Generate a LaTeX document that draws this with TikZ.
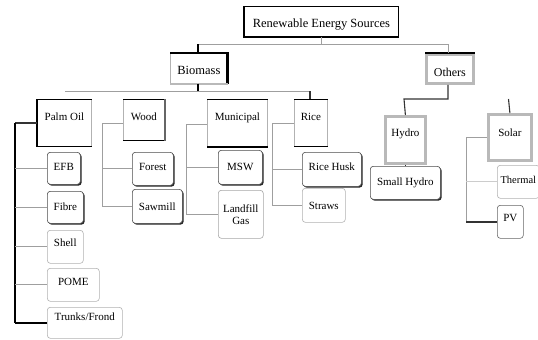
\documentclass[tikz,border=0pt]{standalone}
\usepackage{fontspec}
\setmainfont{Liberation Serif}
\usetikzlibrary{shadows}
\begin{document}
\begin{tikzpicture}[x=1bp,y=-1bp,
  font=\fontsize{11bp}{12bp}\selectfont,
  base/.style={anchor=north west, inner xsep=0pt, inner ysep=0pt, minimum height=0pt, fill=white},
  leaf/.style={base, rounded corners=3bp, draw=gray!60, line width=.6bp},
  leafsh/.style={leaf, draw=black!70, drop shadow={shadow xshift=1.3bp, shadow yshift=-1.3bp, fill=black!85, opacity=1}},
  cat/.style={base, draw=gray!60, line width=.8bp},
  frame/.style={base, draw=gray!55, line width=2.8bp},
  conn/.style={draw=gray!75, line width=.9bp},
  darkconn/.style={draw=black!80, line width=1.1bp},
  thickconn/.style={draw=black, line width=1.9bp},
  edge/.style={line width=#1, draw=black}]
\useasboundingbox (0,0) rectangle (538,339);
\clip (0,0) rectangle (538,339);
\fill[white] (0,0) rectangle (538,339);

% ---- top levels
\node[base, draw=black, line width=.8bp, minimum width=154bp, text height=21bp, text depth=9bp,
      font=\fontsize{12.5bp}{13bp}\selectfont] (root) at (244,6) {Renewable Energy Sources};
\node[base, draw=gray!60, line width=.7bp, minimum width=57bp, text height=21bp, text depth=9bp,
      font=\fontsize{12.5bp}{13bp}\selectfont] (biomass) at (170,53) {Biomass};
\node[frame, minimum width=47bp, text height=22bp, text depth=7bp,
      font=\fontsize{12bp}{13bp}\selectfont] (others) at (425,53) {Others};

% ---- biomass categories
\node[cat, minimum width=54bp, text height=21.5bp, text depth=25.5bp] (palm) at (37,99) {Palm Oil};
\node[cat, minimum width=41bp, text height=21.5bp, text depth=19.5bp] (wood) at (123,99) {Wood};
\node[cat, minimum width=60bp, text height=21.5bp, text depth=25.5bp] (municipal) at (207,99) {Municipal};
\node[cat, minimum width=33bp, text height=21.5bp, text depth=25.5bp] (rice) at (294,99) {Rice};

% ---- palm oil leaves
\node[leafsh, minimum width=33bp, text height=18.5bp, text depth=13.5bp] (efb) at (47,152) {EFB};
\node[leafsh, minimum width=36bp, text height=19.5bp, text depth=12.5bp] (fibre) at (47,191) {Fibre};
\node[leaf, minimum width=36bp, text height=16.5bp, text depth=16.5bp] (shell) at (47,230) {Shell};
\node[leaf, minimum width=52bp, text height=17.5bp, text depth=15.5bp] (pome) at (47,268) {POME};
\node[leaf, minimum width=75bp, text height=13.5bp, text depth=17.5bp] (trunks) at (47,307) {Trunks/Frond};

% ---- wood leaves
\node[leafsh, minimum width=41bp, text height=18.5bp, text depth=14.5bp] (forest) at (132,152) {Forest};
\node[leafsh, minimum width=50bp, text height=21.5bp, text depth=12.5bp] (sawmill) at (132,189) {Sawmill};

% ---- municipal leaves
\node[leafsh, minimum width=44bp, text height=20.5bp, text depth=13.5bp] (msw) at (218,150) {MSW};
\node[leaf, draw=gray!70, minimum width=45bp, minimum height=48bp, align=center] (landfill) at (218,190) {Landfill\\Gas};

% ---- rice leaves
\node[leafsh, minimum width=59bp, text height=18.5bp, text depth=15.5bp] (ricehusk) at (302,152) {Rice Husk};
\node[leaf, minimum width=43bp, text height=21bp, text depth=13bp] (straws) at (302,188) {Straws};

% ---- others
\node[frame, minimum width=40bp, text height=20.5bp, text depth=26.5bp] (hydro) at (384,115) {Hydro};
\node[leafsh, minimum width=70bp, text height=19.5bp, text depth=13.5bp] (smallhydro) at (370,166) {Small Hydro};
\node[frame, minimum width=43bp, text height=22.5bp, text depth=23.5bp] (solar) at (487,113) {Solar};
\node[leaf, minimum width=42bp, text height=18.5bp, text depth=14.5bp,
      font=\fontsize{10.5bp}{12bp}\selectfont] (thermal) at (497,165) {Thermal};
\node[leaf, draw=black!60, minimum width=26bp, text height=16.5bp, text depth=16.5bp] (pv) at (497,205) {PV};

% ---- box accents
\draw[edge=2.4bp] (root.north west) -- (root.south west) -- (root.south east);
\draw[edge=2.6bp] (biomass.north west) -- (biomass.north east) -- (biomass.south east);
\draw[edge=2.4bp, draw=gray!55] (biomass.south west) -- (biomass.south east);
\draw[edge=2.6bp] (others.north west) -- (others.north east);
\draw[edge=2.6bp] (palm.north west) -- (palm.south west);
\draw[edge=1bp] (palm.north west) -- (palm.north east);
\draw[edge=1bp] (palm.south west) -- (palm.south east);
\draw[edge=1bp] (wood.north west) -- (wood.north east);
\draw[edge=1bp] (wood.south west) -- (wood.south east);
\draw[edge=2bp, draw=black!60] (wood.north east) -- (wood.south east);
\draw[edge=1bp] (municipal.north west) -- (municipal.north east);
\draw[edge=1.8bp] (municipal.south west) -- (municipal.south east);
\draw[edge=1bp] (rice.north west) -- (rice.north east);
\draw[edge=1bp] (rice.south west) -- (rice.south east);

% ---- connectors: top
\coordinate (barAL) at (198,44);
\coordinate (barAR) at (448,44);
\draw[conn] (root.south) -- (root.south |- barAL);
\draw[conn] (barAL) -- (barAR);
\draw[thickconn] (barAL) -- (barAL |- biomass.north);
\draw[conn] (barAR) -- (barAR |- others.north);

% ---- biomass bar
\coordinate (barBL) at (65,91);
\coordinate (barBR) at (310,91);
\draw[thickconn] (biomass.south -| barAL) -- (barAL |- barBL);
\draw[conn] (barBL) -- (barBR);
\draw[darkconn] (barBR) -- (barBR |- rice.north);

% ---- palm oil
\coordinate (pv1) at (15,123);
\draw[darkconn] (pv1) -- (palm.west |- pv1);
\draw[thickconn] (pv1) -- (pv1 |- trunks.west);
\draw[conn] (pv1 |- efb.west) -- (efb.west);
\draw[conn] (pv1 |- fibre.west) -- (fibre.west);
\draw[conn] (pv1 |- shell.west) -- (shell.west);
\draw[conn] (pv1 |- pome.west) -- (pome.west);
\draw[thickconn] (pv1 |- trunks.west) -- (trunks.west);

% ---- wood
\coordinate (wv1) at (102,123);
\draw[conn] (wv1) -- (wood.west |- wv1);
\draw[conn] (wv1) -- (wv1 |- sawmill.west);
\draw[conn] (wv1 |- forest.west) -- (forest.west);
\draw[conn] (wv1 |- sawmill.west) -- (sawmill.west);

% ---- municipal
\coordinate (mv1) at (186,124);
\draw[conn] (mv1) -- (municipal.west |- mv1);
\draw[conn] (mv1) -- (mv1 |- landfill.west);
\draw[conn] (mv1 |- msw.west) -- (msw.west);
\draw[conn] (mv1 |- landfill.west) -- (landfill.west);

% ---- rice
\coordinate (rv1) at (272,123);
\draw[conn] (rv1) -- (rice.west |- rv1);
\draw[conn] (rv1) -- (rv1 |- straws.west);
\draw[conn] (rv1 |- ricehusk.west) -- (ricehusk.west);
\draw[conn] (rv1 |- straws.west) -- (straws.west);

% ---- others
\coordinate (oj) at (448,99);
\coordinate (hj) at (404,99);
\draw[darkconn] (others.south -| oj) -- (oj) -- (hj) -- (hydro.north);
\draw[darkconn] (hydro.south) -- (hydro.south |- smallhydro.north);
\coordinate (sj) at (508.5,99);
\draw[darkconn] (sj) -- (solar.north);
\coordinate (sv1) at (466,137);
\draw[conn] (sv1) -- (solar.west |- sv1);
\draw[conn] (sv1) -- (sv1 |- pv.west);
\draw[draw=gray!40, line width=.8bp] (sv1 |- thermal.west) -- (thermal.west);
\draw[darkconn, line width=1.6bp] (sv1 |- pv.west) -- (pv.west);
\end{tikzpicture}
\end{document}
